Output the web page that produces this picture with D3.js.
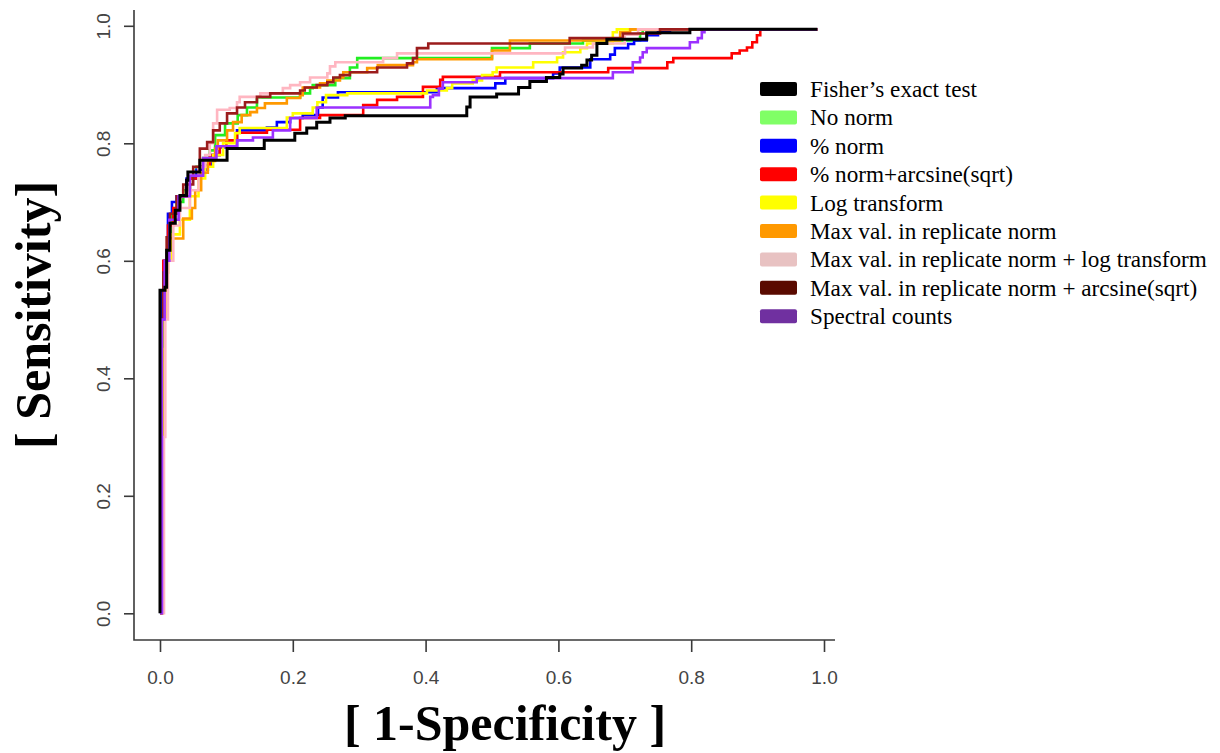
<!DOCTYPE html>
<html><head><meta charset="utf-8">
<script src="https://cdn.jsdelivr.net/npm/d3@7"></script>
<style>html,body{margin:0;padding:0;background:#fff}svg{display:block}</style>
</head><body>
<svg id="c" width="1220" height="753"></svg>
<script>
// ---------- DATA (ROC step curves: [1-specificity, sensitivity]) ----------
const seriesNames = ["Fisher\u2019s exact test","No norm","% norm","% norm+arcsine(sqrt)","Log transform",
  "Max val. in replicate norm","Max val. in replicate norm + log transform","Max val. in replicate norm + arcsine(sqrt)","Spectral counts"];
const xTicks = [0,0.2,0.4,0.6,0.8,1.0];
const yTicks = [0,0.2,0.4,0.6,0.8,1.0];

const fisher = [[0,0],[0,0.55],[0.0075,0.555],[0.01,0.618],[0.015,0.664],[0.023,0.686],[0.03,0.711],[0.04,0.737],[0.042,0.751],[0.06,0.771],[0.101,0.791],[0.157,0.805],[0.203,0.817],[0.221,0.826],[0.236,0.836],[0.256,0.843],[0.279,0.847],[0.462,0.862],[0.467,0.879],[0.507,0.884],[0.54,0.895],[0.557,0.905],[0.582,0.912],[0.602,0.918],[0.607,0.928],[0.635,0.933],[0.643,0.942],[0.65,0.95],[0.658,0.97],[0.673,0.977],[0.733,0.988],[0.798,0.994],[0.99,0.994]];
const noNorm = [[0,0],[0.002,0.43],[0.004,0.55],[0.008,0.6],[0.012,0.64],[0.018,0.68],[0.025,0.70],[0.035,0.72],[0.045,0.74],[0.055,0.76],[0.065,0.775],[0.075,0.788],[0.083,0.814],[0.098,0.834],[0.117,0.848],[0.131,0.861],[0.146,0.878],[0.211,0.885],[0.226,0.894],[0.23,0.899],[0.264,0.911],[0.286,0.929],[0.297,0.945],[0.50,0.962],[0.557,0.970],[0.637,0.975],[0.723,0.987],[0.727,0.994],[0.99,0.994]];
const pctNorm = [[0,0],[0.001,0.38],[0.003,0.55],[0.006,0.6],[0.012,0.68],[0.018,0.70],[0.025,0.71],[0.04,0.74],[0.055,0.755],[0.072,0.763],[0.078,0.78],[0.09,0.793],[0.116,0.822],[0.161,0.827],[0.176,0.836],[0.196,0.843],[0.215,0.848],[0.238,0.861],[0.245,0.878],[0.268,0.887],[0.417,0.894],[0.505,0.902],[0.52,0.911],[0.592,0.919],[0.602,0.929],[0.648,0.943],[0.678,0.951],[0.685,0.962],[0.705,0.969],[0.714,0.975],[0.733,0.984],[0.75,0.991],[0.768,0.994],[0.99,0.994]];
const pctArcsine = [[0,0],[0.002,0.5],[0.005,0.6],[0.012,0.66],[0.02,0.69],[0.03,0.71],[0.045,0.74],[0.06,0.76],[0.075,0.78],[0.09,0.795],[0.1,0.805],[0.116,0.818],[0.161,0.823],[0.211,0.843],[0.241,0.848],[0.306,0.865],[0.327,0.874],[0.357,0.879],[0.396,0.896],[0.422,0.908],[0.426,0.913],[0.512,0.921],[0.675,0.928],[0.764,0.938],[0.773,0.945],[0.861,0.953],[0.873,0.958],[0.884,0.963],[0.892,0.972],[0.899,0.984],[0.904,0.994],[0.99,0.994]];
const logTransform = [[0,0],[0.004,0.45],[0.007,0.55],[0.011,0.6],[0.018,0.645],[0.03,0.67],[0.045,0.71],[0.058,0.74],[0.068,0.76],[0.08,0.78],[0.095,0.80],[0.113,0.817],[0.12,0.826],[0.191,0.844],[0.2,0.851],[0.23,0.861],[0.237,0.87],[0.25,0.882],[0.282,0.885],[0.402,0.89],[0.432,0.894],[0.44,0.902],[0.471,0.907],[0.485,0.916],[0.501,0.921],[0.507,0.929],[0.562,0.938],[0.598,0.946],[0.607,0.955],[0.633,0.962],[0.643,0.97],[0.682,0.989],[0.688,0.994],[0.99,0.994]];
const maxVal = [[0,0],[0.003,0.5],[0.008,0.58],[0.012,0.62],[0.015,0.638],[0.035,0.672],[0.048,0.69],[0.053,0.72],[0.062,0.75],[0.072,0.77],[0.083,0.791],[0.087,0.805],[0.101,0.822],[0.11,0.836],[0.123,0.848],[0.136,0.853],[0.146,0.86],[0.158,0.868],[0.191,0.877],[0.211,0.882],[0.215,0.895],[0.241,0.902],[0.252,0.907],[0.271,0.912],[0.276,0.921],[0.312,0.928],[0.328,0.933],[0.381,0.938],[0.387,0.943],[0.5,0.958],[0.527,0.975],[0.693,0.989],[0.708,0.994],[0.99,0.994]];
const maxValLog = [[0,0],[0.006,0.3],[0.008,0.5],[0.012,0.6],[0.02,0.66],[0.03,0.69],[0.045,0.72],[0.058,0.76],[0.068,0.78],[0.075,0.80],[0.08,0.834],[0.086,0.857],[0.105,0.86],[0.116,0.87],[0.12,0.879],[0.151,0.885],[0.185,0.894],[0.196,0.899],[0.211,0.904],[0.226,0.912],[0.252,0.919],[0.256,0.931],[0.264,0.938],[0.336,0.945],[0.357,0.953],[0.61,0.963],[0.652,0.97],[0.70,0.985],[0.72,0.994],[0.99,0.994]];
const maxValArcsine = [[0,0],[0.002,0.5],[0.005,0.58],[0.01,0.64],[0.015,0.68],[0.025,0.71],[0.035,0.73],[0.05,0.76],[0.06,0.791],[0.071,0.802],[0.08,0.822],[0.09,0.834],[0.101,0.851],[0.116,0.861],[0.128,0.87],[0.146,0.879],[0.166,0.885],[0.211,0.89],[0.218,0.895],[0.236,0.899],[0.252,0.904],[0.261,0.912],[0.271,0.916],[0.286,0.921],[0.327,0.929],[0.372,0.936],[0.381,0.945],[0.387,0.962],[0.404,0.97],[0.617,0.979],[0.697,0.987],[0.753,0.994],[0.99,0.994]];
const spectral = [[0,0],[0.003,0.5],[0.007,0.6],[0.014,0.67],[0.028,0.71],[0.045,0.745],[0.065,0.775],[0.085,0.795],[0.116,0.805],[0.14,0.81],[0.17,0.822],[0.196,0.843],[0.236,0.861],[0.407,0.879],[0.411,0.882],[0.42,0.893],[0.426,0.904],[0.477,0.911],[0.682,0.921],[0.712,0.938],[0.723,0.946],[0.727,0.955],[0.733,0.962],[0.798,0.972],[0.81,0.979],[0.816,0.989],[0.82,0.994],[0.99,0.994]];

const seriesData = [fisher,noNorm,pctNorm,pctArcsine,logTransform,maxVal,maxValLog,maxValArcsine,spectral];

// ---------- STYLE ----------
const lineColors  = ["#000000","#22ee22","#0000ff","#ff0000","#ffff00","#ff9900","#ffb6c1","#9b1c1c","#9b30ff"];
const patchColors = ["#000000","#80ff66","#0000ff","#ff0000","#ffff00","#ff9900","#e8c2c2","#5a0a00","#7030a0"];

const svg = d3.select("#c");
svg.append("rect").attr("width",1220).attr("height",753).attr("fill","#fff");

const x = d3.scaleLinear().domain([0,1]).range([160,824]);
const y = d3.scaleLinear().domain([0,1]).range([613.3,25.8]);

const axisColor = "#3a3a3a";
const frameLeft = 134, frameBottom = 640, frameTop = 10, frameRight = 835;

// frame (L-shape)
svg.append("path")
  .attr("d",`M${frameLeft},${frameTop}V${frameBottom}H${frameRight}`)
  .attr("fill","none").attr("stroke",axisColor).attr("stroke-width",1.6);

// y axis
const yAx = d3.axisLeft(y).tickValues(yTicks).tickFormat(d3.format(".1f")).tickSize(10).tickPadding(0);
const gy = svg.append("g").attr("transform",`translate(${frameLeft},0)`).call(yAx);
gy.select(".domain").remove();
gy.selectAll(".tick line").attr("stroke",axisColor).attr("stroke-width",1.6);
gy.selectAll(".tick text").remove();
gy.selectAll(".tick").append("text")
  .attr("transform","translate(-24,0) rotate(-90)")
  .attr("text-anchor","middle").attr("fill","#444")
  .style("font-family","'Liberation Sans', Arial, sans-serif").style("font-size","19px")
  .text(d=>d3.format(".1f")(d));

// x axis
const xAx = d3.axisBottom(x).tickValues(xTicks).tickFormat(d3.format(".1f")).tickSize(12).tickPadding(0);
const gx = svg.append("g").attr("transform",`translate(0,${frameBottom})`).call(xAx);
gx.select(".domain").remove();
gx.selectAll(".tick line").attr("stroke",axisColor).attr("stroke-width",1.6);
gx.selectAll(".tick text").remove();
gx.selectAll(".tick").append("text")
  .attr("y",44).attr("text-anchor","middle").attr("fill","#444")
  .style("font-family","'Liberation Sans', Arial, sans-serif").style("font-size","19px")
  .text(d=>d3.format(".1f")(d));

// axis titles
svg.append("text").attr("x",505).attr("y",740).attr("text-anchor","middle")
  .style("font-family","'Liberation Serif','Times New Roman',serif").style("font-weight","bold").style("font-size","50px")
  .attr("fill","#000").text("[ 1-Specificity ]");
svg.append("text").attr("transform","translate(50,315) rotate(-90)").attr("text-anchor","middle")
  .style("font-family","'Liberation Serif','Times New Roman',serif").style("font-weight","bold").style("font-size","50px")
  .attr("fill","#000").text("[ Sensitivity]");

// curves
const line = d3.line().x(d=>x(d[0])).y(d=>y(d[1])).curve(d3.curveStepAfter);
const drawOrder = [1,2,3,4,5,6,7,8,0];
const gl = svg.append("g");
drawOrder.forEach(i=>{
  gl.append("path").datum(seriesData[i])
    .attr("d",line).attr("fill","none")
    .attr("stroke",lineColors[i]).attr("stroke-width", i===0?3:2.6)
    .attr("stroke-linejoin","miter");
});

// legend
const lg = svg.append("g");
seriesNames.forEach((n,i)=>{
  const cy = 90 + i*28.4;
  lg.append("rect").attr("x",760).attr("y",cy-8).attr("width",37).attr("height",14).attr("rx",2)
    .attr("fill",patchColors[i]);
  lg.append("text").attr("x",810).attr("y",cy+7)
    .style("font-family","'Liberation Serif','Times New Roman',serif").style("font-size","23.2px")
    .attr("fill","#000").text(n);
});
</script>
</body></html>
